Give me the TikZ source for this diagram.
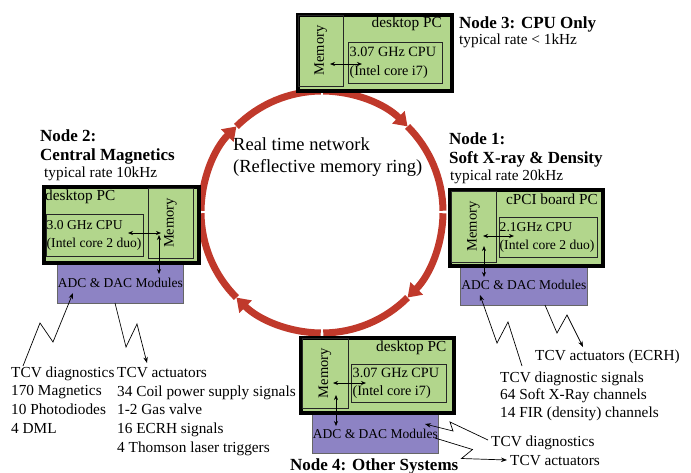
\documentclass[tikz,border=0pt]{standalone}
\usepackage{fontspec}
\setmainfont{Liberation Serif}
\usetikzlibrary{arrows.meta}
\definecolor{pcgreen}{RGB}{178,214,140}
\definecolor{adcpurple}{RGB}{141,131,196}
\definecolor{ringred}{RGB}{192,57,43}

\begin{document}
\begin{tikzpicture}[x=1pt,y=1pt,
    pc/.style={draw=black,line width=4pt,fill=pcgreen,inner sep=0pt,anchor=north west},
    mem/.style={draw=black!85,line width=0.8pt,rotate=90,inner sep=0pt,font=\fontsize{14.5}{17}\selectfont},
    cpu/.style={draw=black!85,line width=0.8pt,inner sep=0pt,anchor=north west},
    cputext/.style={anchor=west,inner xsep=1.5pt,inner ysep=0pt,align=left,font=\fontsize{13.6}{18.4}\selectfont},
    adc/.style={draw=black!60,line width=0.8pt,fill=adcpurple,inner sep=0pt,anchor=north west,font=\fontsize{13.5}{16}\selectfont},
    lbl/.style={anchor=base west,inner sep=0pt,font=\fontsize{15.3}{18.6}\selectfont},
    title/.style={anchor=base west,inner sep=0pt,font=\fontsize{17}{19}\selectfont\bfseries},
    sig/.style={line width=0.7pt,-{Stealth[length=6pt,width=4.5pt]}},
    bus/.style={line width=0.7pt,{Stealth[length=5pt,width=4pt]}-{Stealth[length=5pt,width=4pt]}},
    ring/.style={draw=ringred,line width=7pt}]
\useasboundingbox (0,0) rectangle (691,-472);

% reflective memory ring
\coordinate (hub) at (322,-212);
\foreach \a in {90,0,-90,-180}{
  \draw[ring,-{Triangle[length=13pt,width=17pt]}] (hub) ++(\a-0.6:121pt)
    arc[start angle=\a-0.6,end angle=\a-45,radius=121pt];
  \draw[ring] (hub) ++(\a-45:121pt) arc[start angle=\a-45,end angle=\a-89.4,radius=121pt];
}
% (base of a multi-line node = its last line)
\node[anchor=base west,inner sep=0pt,align=left,font=\fontsize{18.5}{21.5}\selectfont] (netname) at (233,-172)
  {Real time network\\(Reflective memory ring)};

% acquisition modules
\node[adc,minimum width=126pt,minimum height=41pt] (adc2) at (57,-262) {ADC \& DAC Modules};
\node[adc,minimum width=127pt,minimum height=41pt] (adc1) at (460,-264) {ADC \& DAC Modules};
\node[adc,minimum width=126pt,minimum height=40pt] (adc4) at (312,-413) {ADC \& DAC Modules};

% computers
\node[pc,minimum width=154pt,minimum height=76pt] (pc3) at (296,-12.5) {};
\node[pc,minimum width=155.5pt,minimum height=75.5pt] (pc2) at (41.5,-185) {};
\node[pc,minimum width=153pt,minimum height=76pt] (pc1) at (448,-188) {};
\node[pc,minimum width=153pt,minimum height=75pt] (pc4) at (299,-336) {};

\node[lbl,anchor=base east] (pcname3) at (442,-27) {desktop PC};
\node[lbl] (pcname2) at (45,-200) {desktop PC};
\node[lbl,anchor=base east] (pcname1) at (598,-204) {cPCI board PC};
\node[lbl,anchor=base east] (pcname4) at (446.5,-351) {desktop PC};

\node[mem,minimum width=71pt,minimum height=44.5pt] (mem3) at (320.75,-50.5) {Memory};
\node[mem,minimum width=70pt,minimum height=45pt] (mem2) at (170.5,-223) {Memory};
\node[mem,minimum width=71pt,minimum height=45pt] (mem1) at (473.5,-226.5) {Memory};
\node[mem,minimum width=69.5pt,minimum height=46pt] (mem4) at (325,-373.25) {Memory};

\node[cpu,minimum width=94pt,minimum height=41pt] (cpu3) at (348,-42) {};
\node[cpu,minimum width=97pt,minimum height=42pt] (cpu2) at (46,-214) {};
\node[cpu,minimum width=98pt,minimum height=40pt] (cpu1) at (499,-217) {};
\node[cpu,minimum width=95pt,minimum height=38pt] (cpu4) at (351,-364) {};
\node[cputext,font=\fontsize{14.2}{18.4}\selectfont] (cpu3txt) at (cpu3.west) {3.07 GHz CPU\\(Intel core i7)};
\node[cputext,inner xsep=0.5pt] (cpu2txt) at (cpu2.west) {3.0 GHz CPU\\(Intel core 2 duo)};
\node[cputext,inner xsep=0.5pt] (cpu1txt) at (cpu1.west) {2.1GHz CPU\\(Intel core 2 duo)};
\node[cputext,font=\fontsize{14.2}{18.4}\selectfont] (cpu4txt) at (cpu4.west) {3.07 GHz CPU\\(Intel core i7)};

% memory <-> cpu <-> modules
\coordinate (m3a) at (330,-64);  \coordinate (c3a) at (362,-64);
\coordinate (c2a) at (128,-233); \coordinate (m2a) at (161,-233);
\coordinate (m2b) at (159,-235); \coordinate (a2a) at (159,-274);
\coordinate (m1a) at (483,-236); \coordinate (c1a) at (514,-236);
\coordinate (m1b) at (484,-246); \coordinate (a1a) at (484,-277);
\coordinate (m4a) at (333,-383); \coordinate (c4a) at (366,-383);
\coordinate (m4b) at (336,-395); \coordinate (a4a) at (336,-426);
\draw[bus] (m3a) -- (c3a);
\draw[bus] (c2a) -- (m2a);
\draw[bus] (m2b) -- (a2a);
\draw[bus] (m1a) -- (c1a);
\draw[bus] (m1b) -- (a1a);
\draw[bus] (m4a) -- (c4a);
\draw[bus] (m4b) -- (a4a);

% node titles
\node[title] (t3) at (459,-28) {Node 3: CPU Only};
\node[lbl] (r3) at (459,-44.5) {typical rate < 1kHz};
\node[title] (t1a) at (449,-144) {Node 1:};
\node[title] (t1b) at (449,-163.5) {Soft X-ray \& Density};
\node[lbl] (r1) at (450,-180.5) {typical rate 20kHz};
\node[title] (t2a) at (40,-141) {Node 2:};
\node[title] (t2b) at (40,-160) {Central Magnetics};
\node[lbl] (r2) at (44,-177) {typical rate 10kHz};
\node[title] (t4) at (290,-470) {Node 4: Other Systems};

% signals
\node[lbl,align=left] (diag2) at (11,-433) {TCV diagnostics\\170 Magnetics\\10 Photodiodes\\4 DML};
\node[lbl,align=left] (act2) at (117,-452) {TCV actuators\\34 Coil power supply signals\\1-2 Gas valve\\16 ECRH signals\\4 Thomson laser triggers};
\node[lbl] (act1) at (535,-360) {TCV actuators (ECRH)};
\node[lbl,align=left,font=\fontsize{15.3}{17.5}\selectfont] (diag1) at (500,-417) {TCV diagnostic signals\\64 Soft X-Ray channels\\14 FIR (density) channels};
\node[lbl] (diag4) at (491,-446) {TCV diagnostics};
\node[lbl] (act4) at (510,-465.5) {TCV actuators};

\coordinate (d2s) at (23,-366);  \coordinate (d2e) at (73,-293);
\coordinate (a2s) at (115,-303); \coordinate (a2e) at (147,-363);
\coordinate (d1s) at (522,-366); \coordinate (d1e) at (480,-295);
\coordinate (a1s) at (545,-305); \coordinate (a1e) at (583,-347);
\coordinate (d4s) at (488,-440); \coordinate (d4e) at (425,-424);
\coordinate (a4s) at (435,-438); \coordinate (a4e) at (507,-460);
\draw[sig] (d2s) -- (40,-323) -- (53,-342) -- (d2e);
\draw[sig] (a2s) -- (126,-347) -- (137,-324) -- (a2e);
\draw[sig] (d1s) -- (508,-322) -- (497,-343) -- (d1e);
\draw[sig] (a1s) -- (557,-333) -- (567,-315) -- (a1e);
\draw[sig] (d4s) -- (450,-422) -- (453,-431) -- (d4e);
\draw[sig] (a4s) -- (472.5,-449.5) -- (461.5,-458.5) -- (a4e);
\end{tikzpicture}
\end{document}
